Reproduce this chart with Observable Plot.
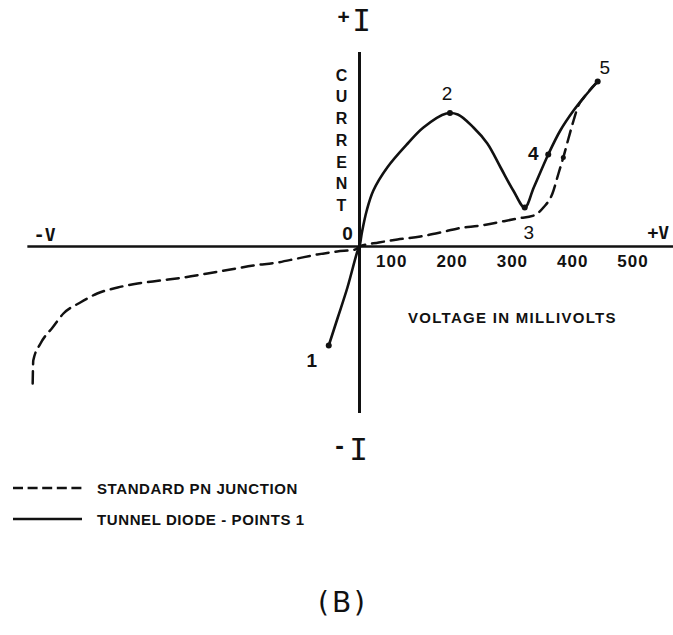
<!DOCTYPE html>
<html>
<head>
<meta charset="utf-8">
<script src="https://cdn.jsdelivr.net/npm/d3@7"></script>
<script src="https://cdn.jsdelivr.net/npm/@observablehq/plot@0.6"></script>
<style>
  html, body { margin: 0; padding: 0; background: #fff; }
  body { width: 673px; height: 635px; position: relative; overflow: hidden;
         font-family: "Liberation Sans", Arial, sans-serif; color: #111; }
  #chart { position: absolute; left: 0; top: 0; }
  .legend-row { position: absolute; left: 13px; height: 20px; display: flex; align-items: center;
                font-weight: bold; font-size: 15px; letter-spacing: 0.6px; white-space: nowrap; }
  .legend-row svg { margin-right: 15px; display: block; }
  #caption { position: absolute; left: 343px; top: 587px; transform: translateX(-50%);
             font-family: "DejaVu Sans", sans-serif; font-size: 28px; line-height: 32px; letter-spacing: 3px; }
</style>
</head>
<body>
<div id="chart"></div>
<div class="legend-row" style="top:478px">
  <svg width="69" height="6"><line x1="0" y1="3" x2="69" y2="3" stroke="#111" stroke-width="2.5" stroke-dasharray="10,4.6"/></svg>
  <span>STANDARD PN JUNCTION</span>
</div>
<div class="legend-row" style="top:509px">
  <svg width="69" height="6"><line x1="0" y1="3" x2="69" y2="3" stroke="#111" stroke-width="2.5"/></svg>
  <span>TUNNEL DIODE - POINTS 1</span>
</div>
<div id="caption">(B)</div>
<script>
// ---- data ----
const voltTicks = [100, 200, 300, 400, 500];

// tunnel diode curve (mV, relative current)
const tunnelV = [-51, -36, -20, -3, 0, 4, 12, 23, 46, 80, 106, 144, 163, 189, 212, 234, 255, 274, 289, 313, 333, 355, 372, 395];
const tunnelI = [-9.9, -7.1, -4.1, -0.4, 0, 1.4, 3.6, 5.6, 7.9, 10.3, 11.9, 13.3, 13.2, 11.9, 10.3, 7.9, 5.6, 3.9, 5.9, 9.2, 11.6, 13.6, 14.9, 16.5];

// standard PN junction curve
const pnV = [-542, -541, -529, -509, -491, -463, -435, -401, -368, -330, -292, -252, -214, -176, -136, -103, -70, -37, -7, 0, 32, 63, 101, 134, 163, 201, 262, 289, 305, 320, 330, 338, 347, 355, 363, 372, 395];
const pnI = [-13.7, -11.4, -9.7, -8.1, -6.7, -5.6, -4.7, -4.1, -3.7, -3.4, -3.1, -2.7, -2.3, -1.9, -1.6, -1.2, -0.8, -0.5, -0.3, 0, 0.4, 0.7, 1.0, 1.4, 1.8, 2.1, 2.8, 3.1, 3.9, 5.3, 7.3, 8.9, 10.9, 12.6, 14.1, 14.9, 16.5];

// numbered points on the tunnel diode curve
const pointLabels = ["1", "2", "3", "4", "5"];
const pointV = [-51, 150, 274, 313, 395];
const pointI = [-9.9, 13.35, 3.9, 9.2, 16.5];

// marker on the PN junction curve
const pnMarkV = [338];
const pnMarkI = [8.9];

// axis extents
const hAxisLeft = -550;
const vAxisBottom = -16.7;
const vAxisTop = 19.4;

// ---- layout ----
const W = 673, H = 470;
const originX = 359, originY = 246;   // pixel position of the axes crossing
const pxPerMV = 0.603, pxPerUnit = 10;
const xDomain = [-originX / pxPerMV, (W - originX) / pxPerMV];
const yDomain = [-(H - originY) / pxPerUnit, originY / pxPerUnit];

const tunnel = tunnelV.map((v, i) => ({v, i: tunnelI[i]}));
const pn = pnV.map((v, i) => ({v, i: pnI[i]}));
const pts = pointV.map((v, i) => ({v, i: pointI[i], label: pointLabels[i]}));
const pnMark = pnMarkV.map((v, i) => ({v, i: pnMarkI[i]}));

const ink = "#111";
const sans = "Liberation Sans, Arial, sans-serif";
const mono = "DejaVu Sans Mono, monospace";

// label offsets for the numbered points: [dx, dy, weight]
const ptStyle = [[-17, 15, "bold"], [-3, -19, "normal"], [4, 25, "normal"], [-15, -1, "bold"], [7, -14, "normal"]];

const plot = Plot.plot({
  width: W, height: H,
  margin: 0,
  x: {domain: xDomain, axis: null},
  y: {domain: yDomain, axis: null},
  style: {background: "#fff", color: ink},
  marks: [
    Plot.ruleY([0], {x1: hAxisLeft, x2: xDomain[1], stroke: ink, strokeWidth: 2.5}),
    Plot.ruleX([0], {y1: vAxisBottom, y2: vAxisTop, stroke: ink, strokeWidth: 3}),
    Plot.line(pn, {x: "v", y: "i", curve: "monotone-x", stroke: ink, strokeWidth: 2.5, strokeDasharray: "12,7"}),
    Plot.line(tunnel, {x: "v", y: "i", curve: "catmull-rom", stroke: ink, strokeWidth: 2.6}),
    Plot.dot(pts, {x: "v", y: "i", r: 3, fill: ink}),
    Plot.dot(pnMark, {x: "v", y: "i", r: 2.5, fill: ink}),
    ...pts.map((p, k) => Plot.text([p], {x: "v", y: "i", text: "label", dx: ptStyle[k][0], dy: ptStyle[k][1],
      fontSize: 19, fontWeight: ptStyle[k][2], fontFamily: sans, fill: ink})),
    Plot.text(["0"], {x: 0, y: 0, text: d => d, dx: -12, dy: -13, fontSize: 19, fontWeight: "bold", fontFamily: sans, fill: ink}),
    Plot.text(voltTicks, {x: d => d, y: 0, text: d => String(d), dx: -28, dy: 15, fontSize: 17, fontWeight: "bold",
      fontFamily: sans, fill: ink}),
    Plot.text(["VOLTAGE IN MILLIVOLTS"], {x: 300, y: 0, text: d => d, dx: -28, dy: 72, fontSize: 15, fontWeight: "bold",
      fontFamily: sans, fill: ink}),
    Plot.text(["CURRENT"], {x: 0, y: vAxisTop, text: d => d.split("").join("\n"), dx: -18, dy: 86.5,
      lineHeight: 1.36, fontSize: 16, fontWeight: "bold", fontFamily: sans, fill: ink}),
    // +I / -I
    Plot.text(["I"], {x: 0, y: vAxisTop, text: d => d, dx: 2, dy: -31, fontSize: 31, fontFamily: mono, fill: ink}),
    Plot.text(["+"], {x: 0, y: vAxisTop, text: d => d, dx: -16, dy: -35, fontSize: 21, fontWeight: "bold", fontFamily: sans, fill: ink}),
    Plot.text(["I"], {x: 0, y: vAxisBottom, text: d => d, dx: -1, dy: 37, fontSize: 31, fontFamily: mono, fill: ink}),
    Plot.text(["-"], {x: 0, y: vAxisBottom, text: d => d, dx: -20, dy: 32, fontSize: 26, fontWeight: "bold", fontFamily: sans, fill: ink}),
    // -V / +V
    Plot.text(["-V"], {x: hAxisLeft, y: 0, text: d => d, dx: 6, dy: -11, textAnchor: "start", fontSize: 18,
      fontWeight: "bold", fontFamily: "DejaVu Sans Mono, monospace", fill: ink}),
    Plot.text(["+V"], {y: 0, frameAnchor: "right", text: d => d, dx: -26, dy: -13, textAnchor: "start", fontSize: 18,
      fontWeight: "bold", fontFamily: "DejaVu Sans Mono, monospace", fill: ink})
  ]
});
// letter spacing tweaks for the wide, blocky lettering of the original
const tickSet = new Set(voltTicks.map(String));
d3.select(plot).selectAll("text").each(function () {
  const t = this.textContent;
  if (tickSet.has(t)) this.style.letterSpacing = "1px";
  else if (t === "VOLTAGE IN MILLIVOLTS") this.style.letterSpacing = "1.3px";
});
document.getElementById("chart").appendChild(plot);
</script>
</body>
</html>
